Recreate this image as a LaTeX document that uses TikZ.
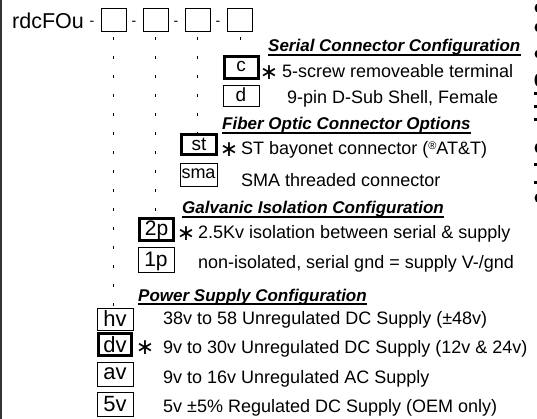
\documentclass[tikz,border=0pt]{standalone}
\usepackage{fontspec}
\setmainfont{Liberation Sans}
\newfontfamily\symfont{DejaVu Sans}
\begin{document}
\begin{tikzpicture}[x=1pt,y=-1pt,
  hbox/.style={draw, line width=0.8pt, minimum width=25pt, minimum height=23pt, inner sep=0pt},
  obox/.style={draw, line width=0.9pt, inner sep=0pt, text depth=0pt},
  sel/.style={line width=3pt},
  desc/.style={anchor=base west, inner sep=0pt, font=\fontsize{18}{20}\selectfont},
  head/.style={anchor=base west, inner sep=0pt, font=\fontsize{17}{20}\selectfont\bfseries\itshape},
  ast/.style={inner sep=0pt, font=\symfont\fontsize{22}{22}\selectfont},
  vdash/.style={line width=1pt, dash pattern=on 3pt off 16pt, dash phase=13pt},
  uline/.style={line width=1.2pt}]
\useasboundingbox (0,0) rectangle (537,419);
\fill[white] (0,0) rectangle (537,419);
\draw[line width=1.5pt, black!80] (1,0) -- (1,419);

% header
\node[anchor=base west, inner sep=0pt, font=\fontsize{21.5}{22}\selectfont] (code) at (12,29) {rdcFOu};
\node[hbox] (h1) at (113.5,19.5) {};
\node[hbox] (h2) at (155.5,19.5) {};
\node[hbox] (h3) at (197.5,19.5) {};
\node[hbox] (h4) at (240,19.5) {};
\node[font=\fontsize{14}{14}\selectfont, inner sep=0pt] (m1) at (92,23) {-};
\node[font=\fontsize{14}{14}\selectfont, inner sep=0pt] (m2) at (134,23) {-};
\node[font=\fontsize{14}{14}\selectfont, inner sep=0pt] (m3) at (176,23) {-};
\node[font=\fontsize{14}{14}\selectfont, inner sep=0pt] (m4) at (218,23) {-};

% serial connector
\node[head] (hs) at (268,52) {Serial Connector Configuration};
\draw[uline] ([yshift=-3pt]hs.base west) -- ([yshift=-3pt]hs.base east);
\node[obox, sel, minimum width=34pt, minimum height=22pt, text height=9pt, font=\fontsize{19}{20}\selectfont] (c) at (241,67.5) {c};
\node[ast] (a1) at (269,73) {∗};
\node[desc] (t1) at (282,78) {5-screw removeable terminal};
\node[obox, minimum width=36pt, minimum height=21pt, text height=13pt, font=\fontsize{19}{20}\selectfont] (d) at (241,95.5) {d};
\node[desc] (t2) at (287,104) {9-pin D-Sub Shell, Female};

% fiber optic
\node[head] (hf) at (222,130) {Fiber Optic Connector Options};
\draw[uline] ([yshift=-3pt]hf.base west) -- ([yshift=-3pt]hf.base east);
\node[obox, sel, minimum width=35pt, minimum height=20pt, text height=12pt, font=\fontsize{19}{20}\selectfont] (st) at (199,144.5) {st};
\node[ast] (a2) at (229,150) {∗};
\node[desc] (t3) at (241,155) {ST bayonet connector ({\fontsize{11}{11}\selectfont\raisebox{5pt}{®}}AT\&T)};
\node[obox, minimum width=37pt, minimum height=23pt, text height=9pt, font=\fontsize{18}{20}\selectfont] (sma) at (198.5,174.5) {sma};
\node[desc] (t4) at (241,187) {SMA threaded connector};

% galvanic isolation
\node[head] (hg) at (182,214) {Galvanic Isolation Configuration};
\draw[uline] ([yshift=-3pt]hg.base west) -- ([yshift=-3pt]hg.base east);
\node[obox, sel, minimum width=34pt, minimum height=22pt, text height=12pt, font=\fontsize{21}{22}\selectfont] (p2) at (156.5,229.5) {2p};
\node[ast] (a3) at (186,234) {∗};
\node[desc] (t5) at (198,239) {2.5Kv isolation between serial \& supply};
\node[obox, minimum width=36pt, minimum height=25pt, text height=14pt, font=\fontsize{21}{22}\selectfont] (p1) at (156,259.5) {1p};
\node[desc] (t6) at (198,269) {non-isolated, serial gnd = supply V-/gnd};

% power supply
\node[head] (hp) at (138,301) {Power Supply Configuration};
\draw[uline] ([yshift=-3pt]hp.base west) -- ([yshift=-3pt]hp.base east);
\node[obox, minimum width=36pt, minimum height=22pt, text height=15pt, font=\fontsize{22}{22}\selectfont] (hv) at (115,319) {hv};
\node[desc] (t7) at (163,324) {38v to 58 Unregulated DC Supply (±48v)};
\node[obox, sel, minimum width=33pt, minimum height=22pt, text height=15pt, font=\fontsize{22}{22}\selectfont] (dv) at (115,344.5) {dv};
\node[ast] (a4) at (145,348) {∗};
\node[desc] (t8) at (163,353) {9v to 30v Unregulated DC Supply (12v \& 24v)};
\node[obox, minimum width=36pt, minimum height=24pt, text height=11pt, font=\fontsize{22}{22}\selectfont] (av) at (115,374) {av};
\node[desc] (t9) at (163,383) {9v to 16v Unregulated AC Supply};
\node[obox, minimum width=36pt, minimum height=24pt, text height=15pt, font=\fontsize{22}{22}\selectfont] (v5) at (115,404) {5v};
\node[desc] (t10) at (163,412) {5v ±5\% Regulated DC Supply (OEM only)};

% dashed guide lines
\draw[vdash] (h1.south) -- (h1.south |- hv.north);
\draw[vdash] (h2.south) -- (h2.south |- p2.north);
\draw[vdash] (h3.south) -- (h3.south |- st.north);
\draw[vdash] (h4.south) -- (h4.south |- c.north);

% cut-off fragments at right edge
\begin{scope}
\clip (0,0) rectangle (537,419);
\foreach \yy/\hh in {8/5, 27.5/5, 54/4.5, 80/7, 148/5.5, 198/5}
  \fill[black] (539,\yy) ellipse [x radius=4.5, y radius=\hh];
\foreach \yy in {94, 107, 120, 165, 183}
  \fill[black] (534,\yy-1.5) rectangle (537,\yy+1.5);
\end{scope}
\end{tikzpicture}
\end{document}
